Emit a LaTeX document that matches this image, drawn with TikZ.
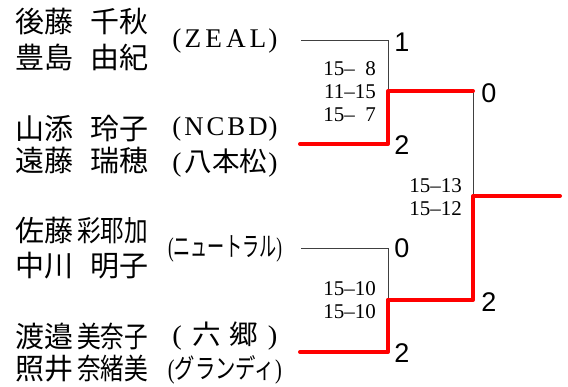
\documentclass[tikz,border=0pt]{standalone}
\usepackage{fontspec}
\usepackage{graphicx}
\setmainfont{Liberation Serif}
\newfontfamily\cjk{Noto Sans CJK JP}
\newfontfamily\digitfont{Liberation Sans}
\usetikzlibrary{positioning}
\newcommand{\narrow}[2]{\resizebox{#1}{\height}{#2}}

\begin{document}
\begin{tikzpicture}[x=1pt, y=-1pt,
    % Styles
    playername/.style={anchor=west, inner sep=0pt, font=\fontsize{29}{29}\selectfont\cjk},
    clubname/.style={inner sep=0pt, font=\fontsize{27}{27}\selectfont},
    score/.style={anchor=east, align=right, inner sep=0pt, font=\fontsize{21}{23}\selectfont},
    result/.style={inner sep=0pt, font=\fontsize{27}{27}\selectfont\digitfont},
    loser/.style={draw=black!75, line width=0.9pt},
    winner/.style={draw=red, line width=4pt, line cap=round, line join=round},
]
    \useasboundingbox (0,0) rectangle (568,387);

    % Players
    \node[playername] (p1a) at (15,22) {後藤\hspace{17pt}千秋};
    \node[playername] (p1b) at (15,57) {豊島\hspace{17pt}由紀};
    \node[playername] (p2a) at (15,129) {山添\hspace{17pt}玲子};
    \node[playername] (p2b) at (15,161) {遠藤\hspace{17pt}瑞穂};
    \node[playername] (p3a) at (15,231) {佐藤\hspace{4pt}\narrow{71pt}{彩耶加}};
    \node[playername] (p3b) at (15,266) {中川\hspace{17pt}明子};
    \node[playername] (p4a) at (15,336) {渡邉\hspace{4pt}\narrow{71pt}{美奈子}};
    \node[playername] (p4b) at (15,369) {照井\hspace{4pt}\narrow{71pt}{奈緒美}};

    % Clubs
    \node[clubname] (c1) at (225,41) {\narrow{105pt}{(\hspace{3pt}Z\hspace{4pt}E\hspace{4pt}A\hspace{4pt}L\hspace{2pt})}};
    \node[clubname] (c2) at (225,129) {\narrow{105pt}{(\hspace{3pt}N\hspace{3pt}C\hspace{3pt}B\hspace{3pt}D\hspace{1pt})}};
    \node[clubname] (c3) at (225,163) {\narrow{105pt}{(\hspace{3pt}{\cjk 八本松}\hspace{1pt})}};
    \node[clubname] (c4) at (225,249) {\narrow{114pt}{({\cjk ニュートラル})}};
    \node[clubname] (c5) at (225,336) {\narrow{105pt}{(\hspace{10pt}{\cjk 六}\hspace{8pt}{\cjk 郷}\hspace{9pt})}};
    \node[clubname] (c6) at (225,370) {\narrow{114pt}{({\cjk グランディ})}};

    % Bracket points
    \coordinate (m1top) at (301,40);
    \coordinate (m1bot) at (300,144);
    \coordinate (m1) at (388,91);
    \coordinate (m2top) at (301,248);
    \coordinate (m2bot) at (300,352);
    \coordinate (m2) at (388,300);
    \coordinate (fin) at (473,196);
    \coordinate (champ) at (560,196);

    % Lost sides
    \draw[loser] (m1top) -| (m1);
    \draw[loser] (m2top) -| (m2);
    \draw[loser] (m1) -| (fin);

    % Winning path
    \draw[winner] (m1bot) -| (m1) -- (m1 -| fin);
    \draw[winner] (m2bot) -| (m2);
    \draw[winner] (m2) -| (fin) -- (champ);

    % Games won
    \node[result] (r1a) at (402,42) {1};
    \node[result] (r1b) at (402,145) {2};
    \node[result] (r2a) at (402,248) {0};
    \node[result] (r2b) at (402,353) {2};
    \node[result] (rf1) at (489,93) {0};
    \node[result] (rf2) at (489,302) {2};

    % Scores
    \node[score] (s1) at (376,92) {15--\phantom{1}8\\11--15\\15--\phantom{1}7};
    \node[score] (s2) at (376,300) {15--10\\15--10};
    \node[score] (sf) at (462,197) {15--13\\15--12};

\end{tikzpicture}
\end{document}
